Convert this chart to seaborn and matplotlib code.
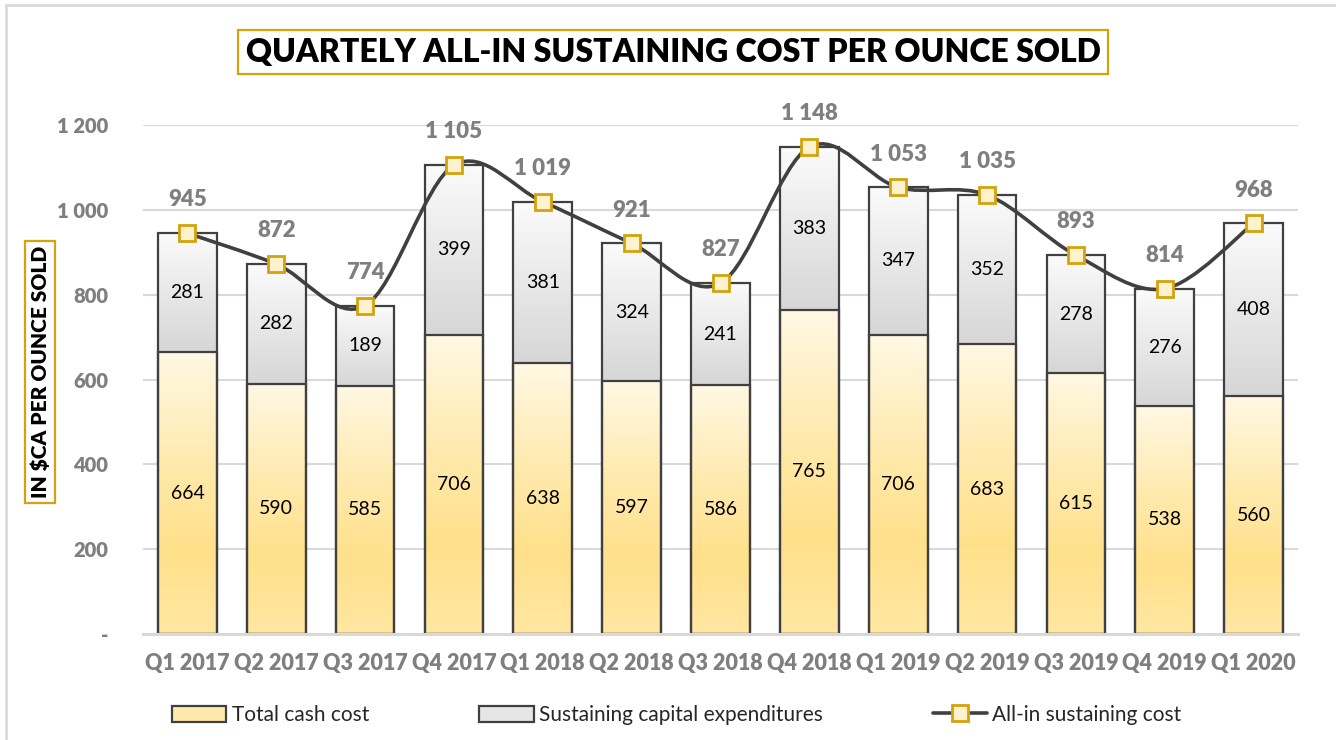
import numpy as np
import pandas as pd
import matplotlib
matplotlib.use("Agg")
import matplotlib.pyplot as plt
import seaborn as sns
from matplotlib.path import Path
from matplotlib.patches import PathPatch, Patch, Rectangle
from matplotlib.lines import Line2D
from matplotlib.colors import LinearSegmentedColormap

# ---------------- data ----------------
quarters = ["Q1 2017", "Q2 2017", "Q3 2017", "Q4 2017", "Q1 2018", "Q2 2018", "Q3 2018",
            "Q4 2018", "Q1 2019", "Q2 2019", "Q3 2019", "Q4 2019", "Q1 2020"]
cash_cost = [664, 590, 585, 706, 638, 597, 586, 765, 706, 683, 615, 538, 560]
sustaining_capex = [281, 282, 189, 399, 381, 324, 241, 383, 347, 352, 278, 276, 408]
aisc = [945, 872, 774, 1105, 1019, 921, 827, 1148, 1053, 1035, 893, 814, 968]
y_ticks = [0, 200, 400, 600, 800, 1000, 1200]
y_tick_labels = ["-", "200", "400", "600", "800", "1 000", "1 200"]

title = "QUARTELY ALL-IN SUSTAINING COST PER OUNCE SOLD"
y_label = "IN $CA PER OUNCE SOLD"
legend_labels = ["Total cash cost", "Sustaining capital expenditures", "All-in sustaining cost"]

# ---------------- style ----------------
sns.set_style("white")
plt.rcParams["font.family"] = ["Lato", "DejaVu Sans"]

GOLD = "#D4A20B"
EDGE = "#404040"
GREYTXT = "#7F7F7F"
GRID = "#D9D9D9"
HEAVY = "heavy"

W, H = 1336, 740
fig = plt.figure(figsize=(W / 100, H / 100), dpi=100)
ax = fig.add_axes([143 / W, 1 - 634 / H, (1298 - 143) / W, (634 - 125) / H])

df = pd.DataFrame({"quarter": quarters, "cash": cash_cost, "capex": sustaining_capex})
df["stack"] = df["cash"] + df["capex"]

bw = 0.66
sns.barplot(data=df, x="quarter", y="stack", color="#EEEEEE", width=bw, errorbar=None,
            edgecolor=EDGE, linewidth=1.6, ax=ax, zorder=2)
sns.barplot(data=df, x="quarter", y="cash", color="#FFE699", width=bw, errorbar=None,
            edgecolor=EDGE, linewidth=1.6, ax=ax, zorder=2)

bars = list(ax.patches)
n = len(quarters)
grey_bars, yellow_bars = bars[:n], bars[n:]

grey_cmap = LinearSegmentedColormap.from_list("g", [(0, "#D6D6D6"), (1, "#FBFBFB")])
yel_cmap = LinearSegmentedColormap.from_list(
    "y", [(0, "#FFE7A3"), (0.3, "#FFE08A"), (0.6, "#FFE9AC"), (1, "#FFF8E4")])
grad = np.linspace(0, 1, 256).reshape(-1, 1)

for p, c in zip(grey_bars, cash_cost):
    x0, w = p.get_x(), p.get_width()
    top = p.get_y() + p.get_height()
    im = ax.imshow(grad, extent=[x0, x0 + w, c, top], origin="lower", aspect="auto",
                   cmap=grey_cmap, zorder=1.5, interpolation="bicubic")
    im.set_clip_path(p)
    p.set_facecolor("none")
for p in yellow_bars:
    x0, w = p.get_x(), p.get_width()
    top = p.get_y() + p.get_height()
    im = ax.imshow(grad, extent=[x0, x0 + w, 0, top], origin="lower", aspect="auto",
                   cmap=yel_cmap, zorder=1.6, interpolation="bicubic")
    im.set_clip_path(p)
    p.set_facecolor("none")

# smoothed AISC line (Excel-like Catmull-Rom Bezier)
xs = np.arange(n, dtype=float)
ys = np.array(aisc, dtype=float)
pts = np.column_stack([xs, ys])
verts = [tuple(pts[0])]
codes = [Path.MOVETO]
for i in range(n - 1):
    p_prev = pts[i - 1] if i > 0 else pts[i]
    p_next2 = pts[i + 2] if i + 2 < n else pts[i + 1]
    c1 = pts[i] + (pts[i + 1] - p_prev) / 6.0
    c2 = pts[i + 1] - (p_next2 - pts[i]) / 6.0
    verts += [tuple(c1), tuple(c2), tuple(pts[i + 1])]
    codes += [Path.CURVE4] * 3
ax.add_patch(PathPatch(Path(verts, codes), facecolor="none", edgecolor=EDGE, lw=2.6,
                       zorder=3, clip_on=False, capstyle="round"))
ax.plot(xs, ys, linestyle="none", marker="s", markersize=11, markerfacecolor="#FFF2CC",
        markeredgecolor=GOLD, markeredgewidth=2, zorder=4, clip_on=False)

# labels
def fmt(v):
    return f"{v:,}".replace(",", " ")

for i in range(n):
    ax.text(i, cash_cost[i] / 2, fmt(cash_cost[i]), ha="center", va="center",
            fontsize=14, color="black", zorder=5)
    ax.text(i, cash_cost[i] + sustaining_capex[i] / 2, fmt(sustaining_capex[i]),
            ha="center", va="center", fontsize=14, color="black", zorder=5)
    ax.annotate(fmt(aisc[i]), (i, aisc[i]), xytext=(0, 24), textcoords="offset points",
                ha="center", va="center", fontsize=16, fontweight=HEAVY, color=GREYTXT,
                zorder=5, annotation_clip=False)

# axes styling
ax.set_xlim(-0.5, n - 0.5)
ax.set_ylim(0, 1200)
ax.set_yticks(y_ticks)
ax.set_yticklabels(y_tick_labels)
ax.set_xlabel("")
ax.set_ylabel("")
for s in ["top", "right", "left"]:
    ax.spines[s].set_visible(False)
ax.spines["bottom"].set_color(GRID)
ax.spines["bottom"].set_linewidth(2.2)
ax.spines["bottom"].set_zorder(2.5)
for yv in y_ticks[1:]:
    ax.axhline(yv, color=GRID, lw=1.5, zorder=0.5)
ax.tick_params(axis="y", length=0, pad=25, labelsize=14.5, labelcolor=GREYTXT)
ax.tick_params(axis="x", length=0, pad=14, labelsize=15.5, labelcolor=GREYTXT)
for t in ax.get_yticklabels() + ax.get_xticklabels():
    t.set_fontweight(HEAVY)

# title and y label boxes
fig.text(673 / W, 1 - 52 / H, title, ha="center", va="center", fontsize=23,
         fontweight=HEAVY, color="black",
         bbox=dict(boxstyle="square,pad=0.25", fc="white", ec=GOLD, lw=1.6))
fig.text(40 / W, 1 - 372 / H, y_label, ha="center", va="center", rotation=90,
         fontsize=15, fontweight=HEAVY, color="black",
         bbox=dict(boxstyle="square,pad=0.25", fc="white", ec=GOLD, lw=1.6))

# outer border (only top / left visible)
fig.patches.append(Rectangle((6 / W, -0.05), 1.2, 1 - 5 / H + 0.05, transform=fig.transFigure,
                             fill=False, ec=GRID, lw=2, zorder=0))

# legend
handles = [Patch(facecolor="#FFE9A8", edgecolor=EDGE, lw=1.6),
           Patch(facecolor="#E6E6E6", edgecolor=EDGE, lw=1.6),
           Line2D([0], [0], color=EDGE, lw=2.6, marker="s", markersize=11,
                  markerfacecolor="#FFF2CC", markeredgecolor=GOLD, markeredgewidth=2)]
fig.legend(handles, legend_labels, loc="center", bbox_to_anchor=(677 / W, 1 - 715 / H),
           ncol=3, frameon=False, fontsize=15, handlelength=2.6, handleheight=0.8,
           handletextpad=0.25, columnspacing=5.3)

fig.savefig("out.png", dpi=100)
